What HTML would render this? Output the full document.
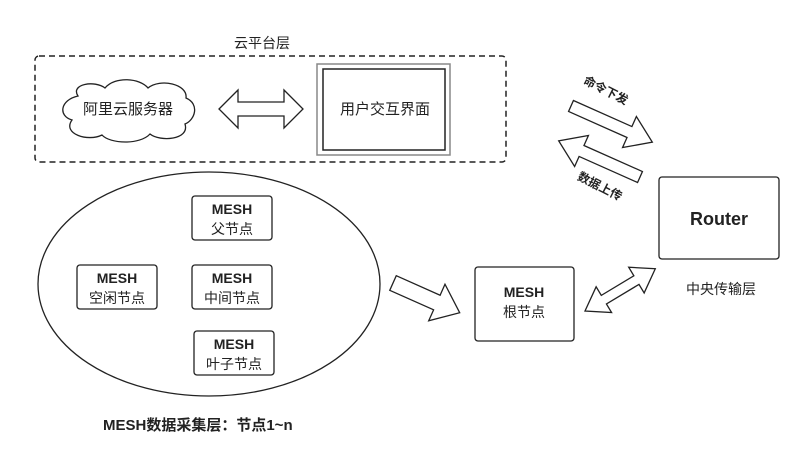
<!DOCTYPE html>
<html><head><meta charset="utf-8"><style>
body{margin:0;background:#fff}
svg{display:block}
text{font-family:"Liberation Sans","Noto Sans CJK SC",sans-serif;fill:#222}
</style></head><body>
<svg width="800" height="468" viewBox="0 0 800 468" xmlns="http://www.w3.org/2000/svg">
<g fill="#fff" stroke="#222" stroke-width="1.3">
<text x="262" y="48" font-size="14" text-anchor="middle" stroke="none">云平台层</text>
<rect x="35" y="56" width="471" height="106" rx="4" fill="none" stroke-dasharray="6,4" stroke-width="1.5"/>
<path d="M78 96 C70 84 95 80 105 88 C115 76 140 78 148 88 C160 78 188 84 186 98 C200 104 195 120 185 124 C190 140 160 142 150 134 C140 145 110 144 102 135 C88 142 62 134 72 120 C58 116 60 100 78 96 Z"/>
<text x="128" y="114" font-size="15" text-anchor="middle" stroke="none">阿里云服务器</text>
<polygon points="219,109 238,90 238,102 284,102 284,90 303,109 284,128 284,116 238,116 238,128"/>
<rect x="317" y="64" width="133" height="91" stroke="#888" stroke-width="1.5"/>
<rect x="323" y="69" width="122" height="81" stroke-width="1.5"/>
<text x="385" y="114" font-size="15" text-anchor="middle" stroke="none">用户交互界面</text>

<ellipse cx="209" cy="284" rx="171" ry="112"/>
<rect x="192" y="196" width="80" height="44" rx="3"/>
<text x="232" y="214" font-size="14" font-weight="bold" text-anchor="middle" stroke="none">MESH</text>
<text x="232" y="234" font-size="14" text-anchor="middle" stroke="none">父节点</text>
<rect x="77" y="265" width="80" height="44" rx="3"/>
<text x="117" y="283" font-size="14" font-weight="bold" text-anchor="middle" stroke="none">MESH</text>
<text x="117" y="303" font-size="14" text-anchor="middle" stroke="none">空闲节点</text>
<rect x="192" y="265" width="80" height="44" rx="3"/>
<text x="232" y="283" font-size="14" font-weight="bold" text-anchor="middle" stroke="none">MESH</text>
<text x="232" y="303" font-size="14" text-anchor="middle" stroke="none">中间节点</text>
<rect x="194" y="331" width="80" height="44" rx="3"/>
<text x="234" y="349" font-size="14" font-weight="bold" text-anchor="middle" stroke="none">MESH</text>
<text x="234" y="369" font-size="14" text-anchor="middle" stroke="none">叶子节点</text>
<text x="103" y="430" font-size="15" font-weight="bold" stroke="none">MESH数据采集层：节点1~n</text>

<g transform="translate(393,283) rotate(24)"><polygon points="0,-8 48,-8 48,-20 73,0 48,20 48,8 0,8"/></g>

<rect x="475" y="267" width="99" height="74" rx="3"/>
<text x="524" y="297" font-size="14" font-weight="bold" text-anchor="middle" stroke="none">MESH</text>
<text x="524" y="317" font-size="14" text-anchor="middle" stroke="none">根节点</text>

<g transform="translate(585,311) rotate(-31)"><polygon points="0,0 22,-15 22,-5 60,-5 60,-15 82,0 60,15 60,5 22,5 22,15"/></g>

<rect x="659" y="177" width="120" height="82" rx="3"/>
<text x="719" y="225" font-size="18" font-weight="bold" text-anchor="middle" stroke="none">Router</text>
<text x="721" y="294" font-size="14" text-anchor="middle" stroke="none">中央传输层</text>

<g transform="translate(571,106) rotate(24)"><polygon points="0,-6 64,-6 64,-17 89,0 64,17 64,6 0,6"/></g>
<g transform="translate(640,177) rotate(204)"><polygon points="0,-6 64,-6 64,-17 89,0 64,17 64,6 0,6"/></g>
<text transform="translate(604,94) rotate(27)" font-size="12" font-weight="bold" text-anchor="middle" stroke="none">命令下发</text>
<text transform="translate(598,190) rotate(27)" font-size="12" font-weight="bold" text-anchor="middle" stroke="none">数据上传</text>
</g>
</svg>
</body></html>
